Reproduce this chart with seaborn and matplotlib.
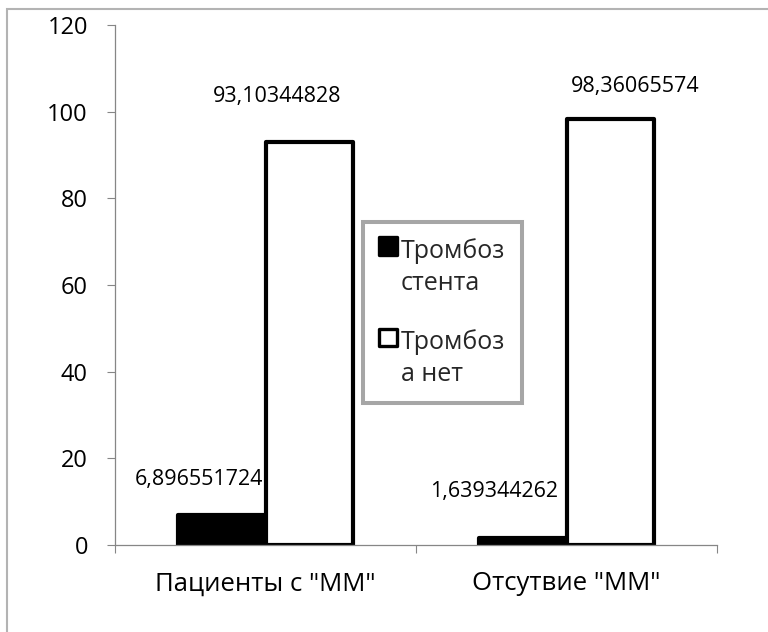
import matplotlib
matplotlib.use("Agg")
import matplotlib.pyplot as plt
import matplotlib.patches as mpatches
from matplotlib.legend_handler import HandlerPatch
from matplotlib.ticker import FixedLocator
import pandas as pd
import seaborn as sns

# Data
categories = ['Пациенты с "ММ"', 'Отсутвие "ММ"']
series = ["Тромбоз стента", "Тромбоза нет"]
stent_thrombosis = [6.896551724, 1.639344262]
no_thrombosis = [93.10344828, 98.36065574]
legend_labels = ["Тромбоз\nстента", "Тромбоз\nа нет"]
y_ticks = [0, 20, 40, 60, 80, 100, 120]

df = pd.DataFrame({
    "category": categories * 2,
    "series": [series[0]] * 2 + [series[1]] * 2,
    "value": stent_thrombosis + no_thrombosis,
})

sns.set_theme(style="white")
plt.rcParams["font.family"] = ["Open Sans", "DejaVu Sans"]

W, H = 768, 632
fig = plt.figure(figsize=(W / 100, H / 100), dpi=100)
ax = fig.add_axes([115 / W, (H - 545) / H, 602 / W, 520 / H])

sns.barplot(
    data=df, x="category", y="value", hue="series",
    order=categories, hue_order=series,
    palette=["black", "white"], edgecolor="black", linewidth=3,
    width=0.584, saturation=1, ax=ax, legend=True,
)
for p in ax.patches:
    p.set_joinstyle("round")

ax.set_xlim(-0.5, 1.5)
ax.set_ylim(0, 120)
ax.set_yticks(y_ticks)
ax.set_xlabel("")
ax.set_ylabel("")

axis_grey = "#868686"
for side in ("top", "right"):
    ax.spines[side].set_visible(False)
for side in ("left", "bottom"):
    ax.spines[side].set_color(axis_grey)
    ax.spines[side].set_linewidth(0.9)

ax.tick_params(axis="y", which="major", direction="out", length=5.5, width=0.8,
               color=axis_grey, pad=14, labelsize=17, labelcolor="black", left=True)
ax.tick_params(axis="x", which="major", length=0, pad=19, labelsize=18.5, labelcolor="black")
ax.xaxis.set_minor_locator(FixedLocator([-0.5, 0.5, 1.5]))
ax.tick_params(axis="x", which="minor", direction="out", length=6, width=0.8,
               color=axis_grey, bottom=True)

# Value labels, offset in pixels from the top centre of each bar
offsets_px = {
    (0, 0): (-23, 36), (0, 1): (-29, 46),
    (1, 0): (-32, 44.6), (1, 1): (25, 32),
}
for si, cont in enumerate(ax.containers):
    for ci, bar in enumerate(cont):
        v = bar.get_height()
        xc = bar.get_x() + bar.get_width() / 2
        dx, dy = offsets_px[(si, ci)]
        ax.annotate(f"{v:.10g}".replace(".", ","), xy=(xc, v),
                    xytext=(dx * 0.72, dy * 0.72), textcoords="offset points",
                    ha="center", va="center", fontsize=15.5, color="black")

# Legend: square key sits beside the first line of each wrapped label
LINE_SHIFT = 15.5  # points


def top_line_square(legend, orig_handle, xdescent, ydescent, width, height, fontsize):
    return mpatches.Rectangle((-xdescent, -ydescent + LINE_SHIFT), width, height)


handles, _ = ax.get_legend_handles_labels()
ax.legend(
    handles, legend_labels, loc="upper left",
    bbox_to_anchor=(363 / W, 1 - 222 / H), bbox_transform=fig.transFigure,
    borderaxespad=0, frameon=True, fancybox=False, fontsize=18,
    handlelength=0.72, handleheight=0.72, handletextpad=0.15,
    labelspacing=1.35, borderpad=0.65, edgecolor="#a6a6a6", framealpha=1,
    handler_map={mpatches.Rectangle: HandlerPatch(patch_func=top_line_square)},
)
leg = ax.get_legend()
leg.get_frame().set_linewidth(2.9)
for t in leg.get_texts():
    t.set_linespacing(1.35)
for h in leg.legend_handles:
    h.set_linewidth(2.4)
    h.set_joinstyle("round")

# Outer chart border
fig.patches.append(mpatches.Rectangle(
    (7 / W, -0.1), 2, 1 - 9 / H + 0.1, transform=fig.transFigure,
    fill=False, edgecolor="#b3b3b3", linewidth=1.5))

fig.savefig("out.png", dpi=100, facecolor="white")
